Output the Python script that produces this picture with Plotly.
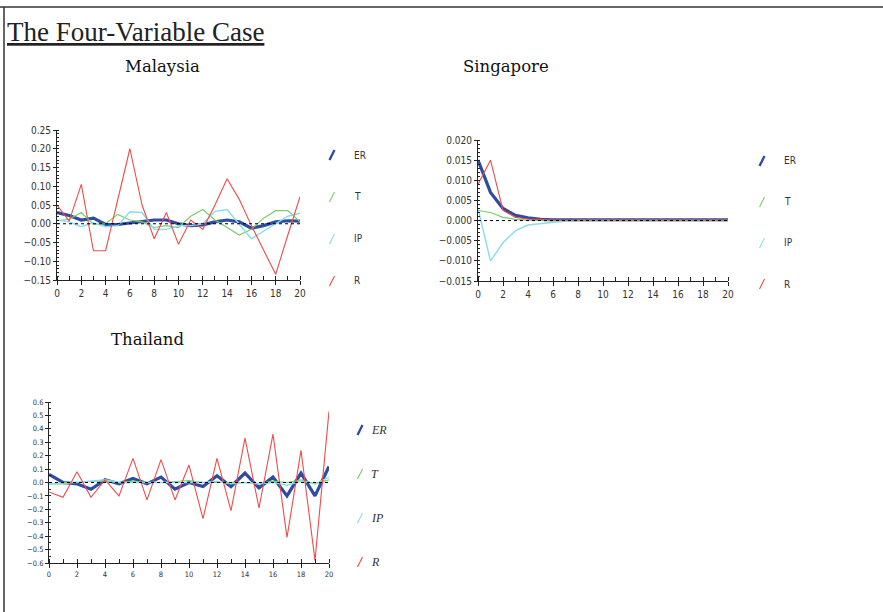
import plotly.graph_objects as go

# ---------------- data ----------------
steps = list(range(21))
series_names = ["ER", "T", "IP", "R"]

mal_er = [0.030, 0.022, 0.010, 0.015, -0.002, -0.002, 0.002, 0.005, 0.010, 0.010, 0.000,
          -0.005, -0.003, 0.005, 0.010, 0.005, -0.012, -0.005, 0.005, 0.008, 0.007]
mal_t = [0.008, 0.012, 0.030, -0.002, 0.000, 0.025, 0.010, 0.005, -0.010, -0.005, -0.010,
         0.020, 0.038, 0.010, -0.010, -0.030, -0.015, 0.015, 0.035, 0.035, 0.005]
mal_ip = [0.010, 0.005, -0.008, 0.003, -0.008, -0.005, 0.032, 0.030, -0.015, -0.015, -0.005,
          -0.005, 0.000, 0.033, 0.038, 0.000, -0.040, -0.020, 0.000, 0.020, 0.028]
mal_r = [0.050, 0.007, 0.105, -0.072, -0.072, 0.065, 0.200, 0.050, -0.040, 0.030, -0.055,
         0.010, -0.015, 0.050, 0.120, 0.065, -0.005, -0.070, -0.135, -0.030, 0.072]

sg_er = [0.0150, 0.0070, 0.0030, 0.0013, 0.0007, 0.0003, 0.0002, 0.0002, 0.0002, 0.0002, 0.0002,
         0.0002, 0.0002, 0.0002, 0.0002, 0.0002, 0.0002, 0.0002, 0.0002, 0.0002, 0.0002]
sg_t = [0.0025, 0.0020, 0.0008, 0.0003, 0.0001, 0.0000, 0.0000, 0.0000, 0.0000, 0.0000, 0.0000,
        0.0000, 0.0000, 0.0000, 0.0000, 0.0000, 0.0000, 0.0000, 0.0000, 0.0000, 0.0000]
sg_ip = [0.0030, -0.0100, -0.0055, -0.0025, -0.0011, -0.0007, -0.0004, -0.0002, 0.0000, 0.0000, 0.0000,
         0.0000, 0.0000, 0.0000, 0.0000, 0.0000, 0.0000, 0.0000, 0.0000, 0.0000, 0.0000]
sg_r = [0.0090, 0.0150, 0.0025, 0.0008, 0.0004, 0.0002, 0.0001, 0.0001, 0.0001, 0.0001, 0.0001,
        0.0001, 0.0001, 0.0001, 0.0001, 0.0001, 0.0001, 0.0001, 0.0001, 0.0001, 0.0001]

th_er = [0.06, 0.00, -0.01, -0.05, 0.02, -0.01, 0.03, -0.01, 0.04, -0.05, 0.00,
         -0.03, 0.05, -0.03, 0.07, -0.04, 0.04, -0.10, 0.07, -0.10, 0.12]
th_t = [-0.01, -0.01, 0.00, 0.01, 0.01, 0.00, 0.01, 0.00, 0.00, 0.01, 0.015,
        0.00, 0.00, 0.00, 0.00, -0.01, 0.01, 0.00, 0.02, -0.01, 0.02]
th_ip = [-0.01, -0.005, 0.00, 0.01, 0.02, 0.00, 0.00, 0.00, 0.00, 0.00, 0.00,
         0.00, 0.01, -0.01, 0.00, -0.01, 0.00, -0.02, 0.01, -0.01, 0.04]
th_r = [-0.07, -0.11, 0.08, -0.11, 0.02, -0.10, 0.18, -0.13, 0.17, -0.13, 0.13,
        -0.27, 0.18, -0.21, 0.33, -0.19, 0.36, -0.41, 0.24, -0.58, 0.53]

# ---------------- styling / layout ----------------
W, H = 883, 612
colors = {"ER": "#2E4CA3", "T": "#7ACC6A", "IP": "#8ADCEB", "R": "#F04B4B"}
widths = {"ER": 3.2, "T": 1.2, "IP": 1.4, "R": 1.1}
NARROW = "Liberation Sans Narrow, DejaVu Sans Condensed, Arial Narrow, sans-serif"
SERIF = "Liberation Serif, Times New Roman, serif"


def fx(x):
    return x / W


def fy(y):
    return 1 - y / H


panels = [
    dict(key="", title="Malaysia", tpos=(162, 66), dx=(57, 300), dy=(130, 280),
         yr=(-0.15, 0.25), dt=0.05, mn=0.01, fmt=".2f", fs=10,
         data=[mal_er, mal_t, mal_ip, mal_r],
         leg_icon=332, leg_text=352, leg_y=[155, 197, 239, 281], leg_font=(NARROW, 10, False)),
    dict(key="2", title="Singapore", tpos=(506, 66), dx=(478, 728), dy=(140, 281),
         yr=(-0.015, 0.020), dt=0.005, mn=0.001, fmt=".3f", fs=10,
         data=[sg_er, sg_t, sg_ip, sg_r],
         leg_icon=762, leg_text=782, leg_y=[161, 202, 243, 284], leg_font=(NARROW, 10, False)),
    dict(key="3", title="Thailand", tpos=(147, 339), dx=(49, 329), dy=(402, 563),
         yr=(-0.6, 0.6), dt=0.1, mn=0.05, fmt=".1f", fs=7.5,
         data=[th_er, th_t, th_ip, th_r],
         leg_icon=360, leg_text=369, leg_y=[430, 474, 518, 562], leg_font=(SERIF, 12, True)),
]

fig = go.Figure()
shapes = []
annotations = []

for p in panels:
    xa = "x" + p["key"]
    ya = "y" + p["key"]
    for name, vals in zip(series_names, p["data"]):
        fig.add_trace(go.Scatter(
            x=steps, y=vals, mode="lines", name=name, showlegend=False,
            line=dict(color=colors[name], width=widths[name]),
            xaxis=xa, yaxis=ya))
    # dotted zero line
    shapes.append(dict(type="line", xref=xa + " domain", yref=ya, x0=0, x1=1, y0=0, y1=0,
                       line=dict(color="black", width=1, dash="dot")))
    axfont = dict(family=NARROW, size=p["fs"], color="#333333")
    fig.layout["xaxis" + p["key"]] = dict(
        domain=[fx(p["dx"][0]), fx(p["dx"][1])], range=[0, 20], anchor=ya, automargin=False,
        showgrid=False, zeroline=False, showline=True, linecolor="#222", linewidth=1,
        tickmode="linear", tick0=0, dtick=2, ticks="outside", ticklen=4, tickcolor="#222",
        minor=dict(dtick=1, ticks="inside", ticklen=4, tickcolor="#222"),
        tickfont=axfont, fixedrange=True)
    fig.layout["yaxis" + p["key"]] = dict(
        domain=[fy(p["dy"][1]), fy(p["dy"][0])], range=list(p["yr"]), anchor=xa, automargin=False,
        showgrid=False, zeroline=False, showline=True, linecolor="#222", linewidth=1,
        tickmode="linear", tick0=0, dtick=p["dt"], ticks="outside", ticklen=3, tickcolor="#222",
        minor=dict(dtick=p["mn"], ticks="inside", ticklen=2, tickcolor="#222"),
        tickformat=p["fmt"], tickfont=axfont, fixedrange=True)
    # panel title
    annotations.append(dict(text=p["title"], xref="paper", yref="paper",
                            x=fx(p["tpos"][0]), y=fy(p["tpos"][1]), xanchor="center", yanchor="middle",
                            showarrow=False, font=dict(family="DejaVu Serif", size=16.5, color="#111")))
    # custom legend
    lf, ls, lit = p["leg_font"]
    for name, ly in zip(series_names, p["leg_y"]):
        cx = p["leg_icon"]
        shapes.append(dict(type="line", xref="paper", yref="paper",
                           x0=fx(cx - 2.5), y0=fy(ly + 5), x1=fx(cx + 2.5), y1=fy(ly - 5),
                           line=dict(color=colors[name], width=2.4 if name == "ER" else 1.1)))
        txt = "<i>" + name + "</i>" if lit else name
        annotations.append(dict(text=txt, xref="paper", yref="paper",
                                x=fx(p["leg_text"]), y=fy(ly), xanchor="left", yanchor="middle",
                                showarrow=False, font=dict(family=lf, size=ls, color="#333")))

# main title
annotations.append(dict(text="<u>The Four-Variable Case</u>", xref="paper", yref="paper",
                        x=fx(5), y=fy(32), xanchor="left", yanchor="middle", showarrow=False,
                        font=dict(family=SERIF, size=27, color="#222")))

# frame lines (top and left)
shapes.append(dict(type="line", xref="paper", yref="paper", x0=0, x1=1, y0=fy(7), y1=fy(7),
                   line=dict(color="#333", width=1.5)))
shapes.append(dict(type="line", xref="paper", yref="paper", x0=fx(4), x1=fx(4), y0=fy(7), y1=0,
                   line=dict(color="#333", width=1.5)))

fig.update_layout(
    width=W, height=H, margin=dict(l=0, r=0, t=0, b=0, autoexpand=False),
    paper_bgcolor="white", plot_bgcolor="white",
    shapes=shapes, annotations=annotations, showlegend=False,
)

fig.write_html(
    "out.html",
    config={"displayModeBar": False},
    post_script="document.body.style.margin='0';document.body.style.overflow='hidden';"
                "document.documentElement.style.overflow='hidden';",
)
